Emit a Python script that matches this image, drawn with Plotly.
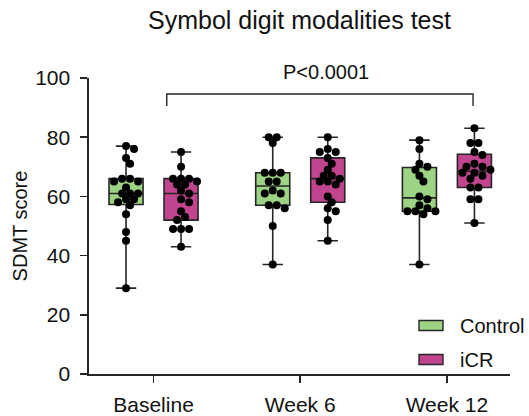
import numpy as np
import plotly.graph_objects as go

# ---------------- data ----------------
timepoints = ["Baseline", "Week 6", "Week 12"]
groups = ["Control", "iCR"]

control_baseline = [29, 45, 48, 54, 57, 58, 59, 59, 61, 61, 61, 63, 65, 65, 66, 66, 71, 73, 76, 77]
icr_baseline = [43, 49, 49, 49, 52, 53, 55, 58, 59, 61, 62, 64, 64, 65, 66, 66, 66, 70, 75]
control_week6 = [37, 50, 56, 57, 57, 61, 61, 62, 65, 65, 68, 68, 68, 78, 80, 80]
icr_week6 = [45, 52, 55, 56, 58, 60, 64, 65, 65, 66, 67, 67, 69, 71, 73, 75, 75, 76, 80]
control_week12 = [37, 54, 55, 55, 55, 56, 57, 59, 60, 65, 67, 69, 70, 71, 76, 79]
icr_week12 = [51, 59, 59, 63, 63, 66, 67, 68, 68, 69, 70, 70, 71, 74, 75, 78, 78, 83]

series = {
    "Control": [control_baseline, control_week6, control_week12],
    "iCR": [icr_baseline, icr_week6, icr_week12],
}

y_ticks = [0, 20, 40, 60, 80, 100]
p_label = "P<0.0001"

# ---------------- styling / layout constants ----------------
W, H = 529, 416
ML, MR, MT, MB = 89, 19, 78, 42
XR = [-0.44, 2.43]
YR = [0, 100]
FILL = {"Control": "#9dd384", "iCR": "#c1448f"}
GOFF = {"Control": -0.1875, "iCR": 0.1875}
BOX_W = 0.232
LINE = "#262626"
FONT = "Liberation Sans, Arial, sans-serif"

plot_w = W - ML - MR
plot_h = H - MT - MB
xsc = plot_w / (XR[1] - XR[0])   # px per x unit
ysc = plot_h / (YR[1] - YR[0])   # px per y unit


def swarm_offsets(vals, dot_min=6.5, step=4.0):
    """Beeswarm x offsets (px) computed from the values."""
    vals = list(vals)
    offs = [0.0] * len(vals)
    placed = []
    cands = [0.0]
    for i in range(1, 40):
        cands += [i * step, -i * step]

    def free(x, y, others):
        return all((x - px) ** 2 + (y - py) ** 2 >= dot_min ** 2 for px, py in others)

    for v in sorted(set(vals), reverse=True):
        idxs = [i for i, u in enumerate(vals) if u == v]
        y = v * ysc
        row = []
        for _ in idxs:
            for c in cands:
                if free(c, y, placed + [(r, y) for r in row]) and all(abs(c - r) >= 8 for r in row):
                    row.append(c)
                    break
        m = sum(row) / len(row)
        shifted = [r - m for r in row]
        if all(free(s, y, placed) for s in shifted):
            row = shifted
        for i, r in zip(idxs, row):
            offs[i] = r
        placed += [(r, y) for r in row]
    return offs


def px2paper(px, py):
    return (px - ML) / plot_w, (H - MB - py) / plot_h


fig = go.Figure()

# boxes (min-max whiskers)
for g in groups:
    for t, vals in enumerate(series[g]):
        v = np.array(vals, dtype=float)
        fig.add_trace(go.Box(
            x=[t + GOFF[g]],
            q1=[np.percentile(v, 25, method="weibull")],
            median=[np.median(v)],
            q3=[np.percentile(v, 75, method="weibull")],
            lowerfence=[v.min()],
            upperfence=[v.max()],
            width=BOX_W,
            whiskerwidth=0.6,
            fillcolor=FILL[g],
            line=dict(color=LINE, width=1.6),
            boxpoints=False,
            showlegend=False,
            name=g,
            hoverinfo="skip",
        ))

# dots
for g in groups:
    for t, vals in enumerate(series[g]):
        offs = swarm_offsets(vals)
        fig.add_trace(go.Scatter(
            x=[t + GOFF[g] + o / xsc for o in offs],
            y=vals,
            mode="markers",
            marker=dict(color="black", size=8, line=dict(width=0)),
            showlegend=False,
            name=g,
            cliponaxis=False,
        ))

# significance bracket
bx0, bx1, by0, by1 = 0.09, 2.178, 90.5, 94.6
fig.add_shape(type="path",
              path=f"M {bx0},{by0} L {bx0},{by1} L {bx1},{by1} L {bx1},{by0}",
              xref="x", yref="y", line=dict(color=LINE, width=1.4))
px_, py_ = px2paper(326, 71.7)
fig.add_annotation(x=px_, y=py_, xref="paper", yref="paper", text=p_label,
                   showarrow=False, font=dict(size=20, color="#111", family=FONT),
                   xanchor="center", yanchor="middle")

# custom legend
leg_rows = {"Control": 325.5, "iCR": 359.5}
for g in groups:
    cy = leg_rows[g]
    x0, y0 = px2paper(419, cy - 5)
    x1, y1 = px2paper(443, cy + 5)
    fig.add_shape(type="rect", xref="paper", yref="paper", x0=x0, x1=x1, y0=y1, y1=y0,
                  fillcolor=FILL[g], line=dict(color=LINE, width=1.4))
    tx, ty = px2paper(459, cy)
    fig.add_annotation(x=tx, y=ty, xref="paper", yref="paper", text=g, showarrow=False,
                       xanchor="left", yanchor="middle", borderpad=0,
                       font=dict(size=20, color="#111", family=FONT))

fig.update_layout(
    width=W, height=H,
    margin=dict(l=ML, r=MR, t=MT, b=MB, autoexpand=False),
    paper_bgcolor="white", plot_bgcolor="white",
    font=dict(family=FONT, color="#111", size=20),
    title=dict(text="Symbol digit modalities test", x=0.5, xref="paper",
               y=1 - 20 / H, yref="container", xanchor="center", yanchor="middle",
               font=dict(size=25, family=FONT, color="#111")),
    showlegend=False,
    hovermode=False,
    xaxis=dict(range=XR, tickvals=[0, 1, 2], ticktext=timepoints, automargin=False,
               showline=True, linecolor=LINE, linewidth=1.6, ticks="outside",
               ticklen=7, tickwidth=1.6, tickcolor=LINE, showgrid=False, zeroline=False,
               tickfont=dict(size=21, family=FONT, color="#111"), ticklabelstandoff=4),
    yaxis=dict(range=YR, tickvals=y_ticks, showline=True, linecolor=LINE, linewidth=1.6,
               automargin=False,
               ticks="outside", ticklen=7, tickwidth=1.6, tickcolor=LINE,
               showgrid=False, zeroline=False,
               tickfont=dict(size=21, family=FONT, color="#111"), ticklabelstandoff=6,
               title=dict(text="SDMT score", standoff=2,
                          font=dict(size=20, family=FONT, color="#111"))),
)

fig.write_html("out.html",
               config={"displayModeBar": False, "staticPlot": True},
               post_script="document.body.style.margin='0';document.body.style.padding='0';")
